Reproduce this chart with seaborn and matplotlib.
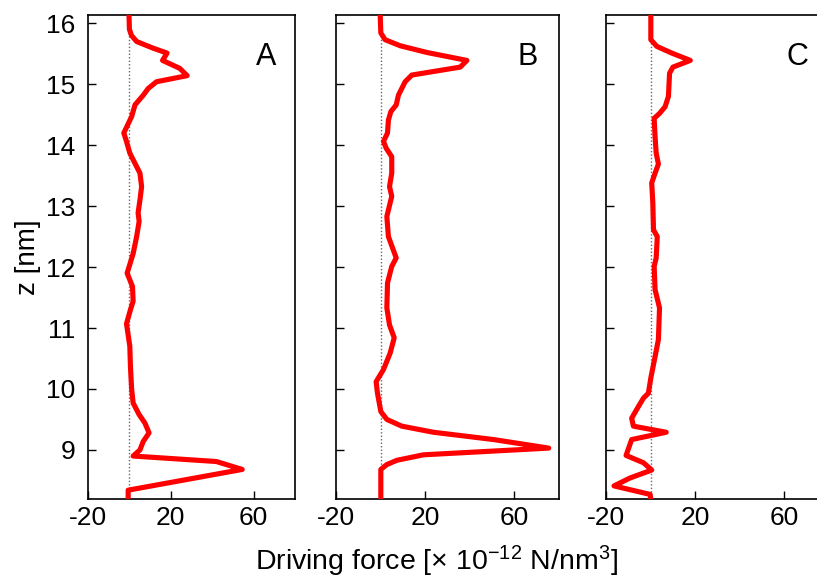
import matplotlib
matplotlib.use("Agg")
import matplotlib.pyplot as plt
import numpy as np
import pandas as pd
import seaborn as sns


# z positions [nm] and driving force [x 1e-12 N/nm^3]
z_a = [16.15, 15.90, 15.80, 15.70, 15.59, 15.51, 15.39, 15.26, 15.14, 15.04,
       14.93, 14.82, 14.66, 14.47, 14.20, 14.06, 13.87, 13.70, 13.54, 13.32,
       13.10, 12.89, 12.75, 12.50, 12.22, 11.90, 11.68, 11.44, 11.30, 11.07,
       10.70, 10.37, 9.99, 9.77, 9.58, 9.44, 9.28, 9.14, 9.00, 8.90,
       8.81, 8.68, 8.34, 8.18]
f_a = [-0.2, 0.0, 1.0, 3.5, 11.5, 18.2, 16.0, 24.3, 27.9, 13.1,
       9.1, 6.7, 2.7, 1.1, -2.7, -1.4, 0.2, 2.7, 5.1, 5.9,
       5.1, 4.2, 4.7, 3.5, 1.8, -1.1, 1.5, 1.8, 0.5, -1.4,
       0.2, 0.5, 1.1, 1.8, 4.7, 7.5, 9.5, 6.7, 5.1, 1.8,
       42.0, 54.5, -0.6, -0.6]

z_b = [16.15, 15.84, 15.73, 15.63, 15.52, 15.39, 15.28, 15.15, 15.04, 14.82,
       14.66, 14.55, 14.41, 14.20, 14.06, 13.95, 13.81, 13.54, 13.32, 13.16,
       12.83, 12.50, 12.15, 12.01, 11.74, 11.33, 11.05, 10.84, 10.59, 10.32,
       10.12, 9.93, 9.63, 9.50, 9.39, 9.29, 9.17, 9.03, 8.92, 8.83,
       8.76, 8.68, 8.18]
f_b = [-0.2, 0.1, 2.0, 8.8, 20.8, 38.7, 35.7, 14.0, 11.0, 8.0,
       7.0, 4.6, 3.5, 3.1, 1.3, 2.5, 5.0, 5.0, 4.0, 5.0,
       2.8, 3.5, 7.0, 5.0, 3.1, 2.8, 4.0, 6.1, 4.3, 1.3,
       -2.0, -1.4, 0.1, 2.8, 9.5, 23.7, 50.7, 75.4, 19.2, 7.3,
       2.8, 0.1, 0.1]

z_c = [16.15, 15.73, 15.62, 15.51, 15.39, 15.28, 15.18, 14.80, 14.63, 14.52,
       14.44, 14.14, 13.87, 13.69, 13.54, 13.38, 13.05, 12.61, 12.50, 12.15,
       12.01, 11.63, 11.33, 10.81, 10.53, 10.18, 9.93, 9.85, 9.71, 9.52,
       9.39, 9.29, 9.17, 8.91, 8.79, 8.67, 8.54, 8.41, 8.27, 8.18]
f_c = [0.1, 0.1, 2.8, 9.5, 17.8, 10.0, 8.5, 8.0, 6.5, 4.0,
       1.6, 2.0, 2.5, 3.5, 2.0, 0.5, 1.0, 1.3, 3.0, 2.5,
       1.6, 2.0, 4.0, 3.5, 2.0, 0.1, -1.0, -3.2, -5.5, -8.5,
       -7.7, 7.0, -8.5, -11.0, -3.2, 0.5, -9.2, -16.4, -0.2, 0.1]

panel_names = ["A", "B", "C"]
x_ticks = [-20, 20, 60]
z_ticks = [9, 10, 11, 12, 13, 14, 15, 16]


sns.set_style("ticks")
plt.rcParams["font.family"] = ["Liberation Sans", "DejaVu Sans"]
plt.rcParams["mathtext.default"] = "regular"
plt.rcParams["axes.unicode_minus"] = False
plt.rcParams["text.color"] = "black"
plt.rcParams["axes.labelcolor"] = "black"
plt.rcParams["xtick.color"] = "black"
plt.rcParams["ytick.color"] = "black"

fig = plt.figure(figsize=(8.17, 5.79), dpi=100)

# axes boxes in figure fractions (panel A is a bit narrower, C runs off the edge)
bottom = 1 - 498.7 / 579
height = (498.7 - 15.3) / 579
boxes = [
    [88 / 817, bottom, 207 / 817, height],
    [336 / 817, bottom, 223 / 817, height],
    [606 / 817, bottom, 223 / 817, height],
]

data = [(z_a, f_a), (z_b, f_b), (z_c, f_c)]

for i in range(3):

    ax = fig.add_axes(boxes[i])

    df = pd.DataFrame({"z": data[i][0], "force": data[i][1]})

    # zero line
    ax.axvline(0, color="0.4", lw=1.0, ls=(0, (1, 1.5)), zorder=1)

    sns.lineplot(
        data=df,
        x="force",
        y="z",
        sort=False,
        estimator=None,
        orient="y",
        color="#ff0000",
        lw=3.7,
        ax=ax,
        zorder=3,
    )

    ax.set_xlim(-20, 80)
    ax.set_ylim(8.2, 16.13)
    ax.set_xticks(x_ticks)
    ax.set_yticks(z_ticks)
    ax.tick_params(direction="in", length=5.5, width=1, labelsize=19)
    ax.tick_params(axis="y", pad=9)
    ax.tick_params(axis="x", pad=5)
    ax.set_xlabel("")
    ax.set_ylabel("")

    if i > 0:
        ax.set_yticklabels([])

    for sp in ax.spines.values():
        sp.set_linewidth(1.2)
        sp.set_color("black")

    ax.text(66, 15.45, panel_names[i], fontsize=22, ha="center", va="center")


fig.text(28 / 817, 1 - 257 / 579, "z [nm]", fontsize=20, rotation=90,
         ha="center", va="center")

fig.text(436 / 817, 1 - 561 / 579,
         "Driving force [\u00d7 10$^{-12}$ N/nm$^{3}$]",
         fontsize=20.5, ha="center", va="center")

fig.savefig("out.png", dpi=100)
